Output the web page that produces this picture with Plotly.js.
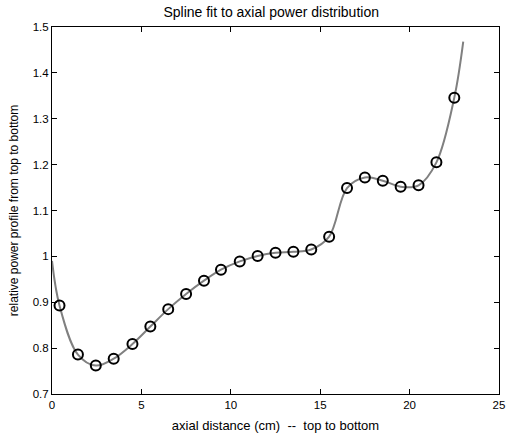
<!DOCTYPE html>
<html>
<head>
<meta charset="utf-8">
<script src="https://cdn.plot.ly/plotly-3.0.1.min.js"></script>
<style>
  html, body { margin: 0; padding: 0; background: #fff; }
  #chart { width: 506px; height: 437px; }
</style>
</head>
<body>
<div id="chart"></div>
<script>
// Measured axial positions (cm) and relative power at each node
const nodeX = [0.42, 1.45, 2.45, 3.45, 4.5, 5.5, 6.5, 7.5, 8.5, 9.45, 10.5, 11.5,
               12.5, 13.5, 14.5, 15.5, 16.5, 17.5, 18.5, 19.5, 20.5, 21.5, 22.5];
const nodePower = [0.893, 0.786, 0.762, 0.777, 0.809, 0.847, 0.885, 0.918, 0.947,
                   0.971, 0.989, 1.001, 1.008, 1.010, 1.015, 1.043, 1.149, 1.172,
                   1.165, 1.152, 1.155, 1.205, 1.346];

// Spline curve: end values of the fitted curve plus the nodes it passes through
const curveStartX = 0, curveStartY = 0.99;
const curveEndX = 23.0, curveEndY = 1.468;
const curveX = [curveStartX].concat(nodeX, [curveEndX]);
const curveY = [curveStartY].concat(nodePower, [curveEndY]);

const xTicks = [0, 5, 10, 15, 20, 25];
const yTicks = [0.7, 0.8, 0.9, 1, 1.1, 1.2, 1.3, 1.4, 1.5];

const family = 'Liberation Sans, Arial, sans-serif';
const tickFont = { family: family, size: 11.5, color: '#000' };

const traces = [
  {
    x: curveX, y: curveY,
    mode: 'lines',
    line: { color: '#808080', width: 2, shape: 'spline', smoothing: 1 },
    hoverinfo: 'skip',
    showlegend: false
  },
  {
    x: nodeX, y: nodePower,
    mode: 'markers',
    marker: { symbol: 'circle-open', size: 10, color: '#000', line: { width: 2, color: '#000' } },
    showlegend: false
  }
];

const axisCommon = {
  showline: true, linecolor: '#000', linewidth: 1,
  mirror: 'ticks', ticks: 'inside', ticklen: 5, tickcolor: '#000', tickwidth: 1,
  showgrid: false, zeroline: false, tickfont: tickFont
};

const layout = {
  width: 506, height: 437,
  margin: { l: 52, r: 7, t: 27, b: 43 },
  paper_bgcolor: '#fff', plot_bgcolor: '#fff',
  font: tickFont,
  title: {
    text: 'Spline fit to axial power distribution',
    font: { family: family, size: 14, color: '#000' },
    x: 0.536, xanchor: 'center', y: 0.972, yanchor: 'middle'
  },
  xaxis: Object.assign({}, axisCommon, {
    range: [0, 25], tickmode: 'array', tickvals: xTicks, ticktext: xTicks.map(String),
    title: {
      text: 'axial distance (cm)  --  top to bottom',
      font: { family: family, size: 13, color: '#000' }, standoff: 11
    }
  }),
  yaxis: Object.assign({}, axisCommon, {
    range: [0.7, 1.5], tickmode: 'array', tickvals: yTicks, ticktext: yTicks.map(String),
    title: {
      text: 'relative power profile from top to bottom',
      font: { family: family, size: 12, color: '#000' }, standoff: 11
    }
  })
};

Plotly.newPlot('chart', traces, layout, { displayModeBar: false, staticPlot: true });
</script>
</body>
</html>
